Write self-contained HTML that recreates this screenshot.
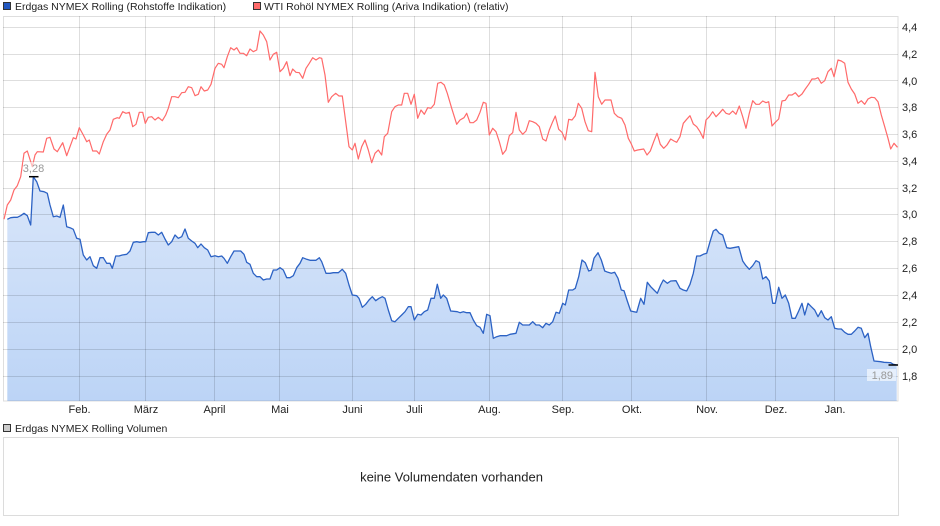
<!DOCTYPE html>
<html><head><meta charset="utf-8"><style>
html,body{margin:0;padding:0;background:#fff;}
svg{display:block;font-family:"Liberation Sans",Arial,sans-serif;}
</style></head><body>
<svg width="940" height="526" viewBox="0 0 940 526" xmlns="http://www.w3.org/2000/svg">
<defs>
<linearGradient id="gf" gradientUnits="userSpaceOnUse" x1="0" y1="176" x2="0" y2="401">
<stop offset="0" stop-color="#d9e6fa"/>
<stop offset="1" stop-color="#bcd4f6"/>
</linearGradient>
</defs>
<!-- legend -->
<rect x="3.5" y="2.5" width="7" height="7" fill="#2358c0" stroke="#333" stroke-width="1"/>
<text x="15" y="10" font-size="10.5" fill="#222">Erdgas NYMEX Rolling (Rohstoffe Indikation)</text>
<rect x="253.5" y="2.5" width="7" height="7" fill="#ff6b6b" stroke="#333" stroke-width="1"/>
<text x="264" y="10" font-size="10.5" fill="#222">WTI Rohöl NYMEX Rolling (Ariva Indikation) (relativ)</text>

<!-- fill -->
<polygon fill="url(#gf)" points="7.3,401 7.3,219.3 10.7,217.7 14,217.3 17.3,217.3 20.7,215.7 24,213.3 27.3,215.7 30.7,225 33.3,176.7 36.7,181.7 40,191 44,191.7 47.3,193.3 50,205 53.3,216.7 56.7,216 60,217.3 63.3,205 66.7,226.7 70,227.7 73.3,229.3 76.7,238.3 80,239.3 83.3,255 86.7,260 90,256.7 93.3,265.7 96.7,268.3 100,257.7 103.3,257.7 106.7,263.3 110,263.3 112.3,268.3 115.7,256 119,256 122.3,255 126.7,254.3 130,251 133.3,242.3 136.7,241.7 140,242.3 143.3,241.7 145.7,241.7 148.3,232.7 151.7,232.3 155,232.3 158.3,235 161.7,232.3 165,239 168.3,245 171.7,241.7 175,235 178.3,238.3 181.7,236.7 185,229 188.3,238.3 191.7,241 195,243.3 197.7,247.7 201,244 204.3,247.7 207.7,250 211,256.7 215,255.7 218.3,256.7 221.7,256 224,258.3 227.3,263.3 230.7,256.7 234,251 240.7,251 244,254.3 246.7,262.3 250,264.3 253.3,273.3 256.7,276.7 260,276.7 263.3,280 266.7,279 270,279 273.3,270 276.7,270 280,267.7 283.3,270 286.7,277.7 290,277.7 293.3,275.7 296.7,267.7 300,263.3 302.7,257.7 306.7,259.3 310,260.3 316,260.3 319.3,257.7 321.7,261.7 326,273.3 330,273.3 333.3,272.7 338.3,272.7 342.3,269.3 345.7,273.3 349,285 352.3,295 356.7,295.7 359,298.3 362.3,307.3 365.7,304.3 369,300 372.3,296.7 375.7,300.7 379,298.3 382.3,296.7 385,298.3 388.3,310 391.7,320.7 395,321.7 398.3,318.3 401.7,315 405,311.7 408.3,306.7 411,306.7 414.3,320 417.7,314.3 421,315 424.3,311.7 427.7,310 431,298.3 434.3,298.3 437.3,284.3 440.7,298.3 443.3,295 446.7,298.3 450.7,311 457.3,311.7 460,312.7 463.3,311.7 466.7,312.7 470,312.7 473.3,320 476.7,325.7 480,327.3 483.3,333.3 486.7,314.3 490,315.7 493.3,338.3 496.7,336.7 500,335.7 506.7,335.7 510,334.3 516,333.3 519.3,322.3 522.7,325 529.3,325 532.7,321.7 536,325 539.3,325 542.7,327.7 546,323.3 549.3,325 552.7,321.7 556,312.3 559.3,313.3 562.7,303.3 565.3,305 568.7,290 572.7,290 575.3,288.3 578.7,276.7 582,260 585.3,262.7 588.7,271 591.3,270 594,258.3 598,252.7 601.3,260 604.7,271 608,272.3 611.3,273.3 614.7,272.3 618,278.3 621.3,290 624,290.7 627.3,301 630.7,311 636.7,312.3 640.7,298.3 644,304.3 647.3,282.3 650.7,286.7 654,290 657.3,293.3 660.7,285 663.3,280 667.3,283.3 670.7,281 676,280.7 680,288.3 683.3,290 686.7,291 690,284.3 693.3,273.3 696.7,256 700,256 703.3,254.3 706.7,253.3 710,241.7 713.3,231 716,229.3 719.3,233.3 722.7,235 726.7,247.7 730,248.3 738.7,246.7 742.7,261 746,265.7 749.3,269.3 752.7,265.7 756,260.7 759.3,262.3 762.7,279 766,276.7 769.3,281 772.7,303.3 775.3,303.3 778.7,287.3 782,298.3 785.3,295 788.7,303.3 792,318.3 795.3,318.3 798.7,311 802,303.3 804.7,315 808,303.3 811.3,306.7 814.7,310 818,316.7 821.3,310.7 824.7,317.7 828,320 831.3,316.7 834.7,328.3 838,329 841.3,329 844.7,332.3 848,334.3 851.3,334.3 854.7,331 858,327.3 861.3,328.3 864.7,337.7 868,333.3 870.7,346.7 874,361 880.7,361.7 884,362.3 890.7,362.7 893.3,364.3 896.7,365 896.7,401"/>

<!-- grid -->
<g stroke="#000" stroke-opacity="0.13" stroke-width="1" fill="none">
<line x1="3" y1="27.5" x2="898" y2="27.5"/>
<line x1="3" y1="54.5" x2="898" y2="54.5"/>
<line x1="3" y1="80.5" x2="898" y2="80.5"/>
<line x1="3" y1="107.5" x2="898" y2="107.5"/>
<line x1="3" y1="134.5" x2="898" y2="134.5"/>
<line x1="3" y1="161.5" x2="898" y2="161.5"/>
<line x1="3" y1="188.5" x2="898" y2="188.5"/>
<line x1="3" y1="214.5" x2="898" y2="214.5"/>
<line x1="3" y1="241.5" x2="898" y2="241.5"/>
<line x1="3" y1="268.5" x2="898" y2="268.5"/>
<line x1="3" y1="295.5" x2="898" y2="295.5"/>
<line x1="3" y1="322.5" x2="898" y2="322.5"/>
<line x1="3" y1="349.5" x2="898" y2="349.5"/>
<line x1="3" y1="376.5" x2="898" y2="376.5"/>
<line x1="79.5" y1="16" x2="79.5" y2="401"/>
<line x1="145.5" y1="16" x2="145.5" y2="401"/>
<line x1="214.5" y1="16" x2="214.5" y2="401"/>
<line x1="279.5" y1="16" x2="279.5" y2="401"/>
<line x1="352.5" y1="16" x2="352.5" y2="401"/>
<line x1="414.5" y1="16" x2="414.5" y2="401"/>
<line x1="489.5" y1="16" x2="489.5" y2="401"/>
<line x1="562.5" y1="16" x2="562.5" y2="401"/>
<line x1="631.5" y1="16" x2="631.5" y2="401"/>
<line x1="706.5" y1="16" x2="706.5" y2="401"/>
<line x1="775.5" y1="16" x2="775.5" y2="401"/>
<line x1="834.5" y1="16" x2="834.5" y2="401"/>
<rect x="3.5" y="16.5" width="894.5" height="384.5"/>
</g>

<!-- red line -->
<polyline fill="none" stroke="#ff6a6a" stroke-width="1.2" stroke-linejoin="round" points="4,219.3 7.3,205 10.7,200 14,190 17.3,185.7 20.7,176.7 24,153.3 27.3,151 30.7,161.7 32.3,166.7 35,155 37.3,151.7 43.3,152 46.7,138.3 50,137.3 54,149 57.3,151.7 62.7,142.7 66.7,155.7 70,146.7 73.3,137.7 76,139 79.3,127.7 83.3,135 86.7,141.7 89.3,140 92.7,151 96.7,151 99.3,154 103.3,141.7 106.7,134.3 110,130 113.3,119.3 117.3,117.7 119.3,118.3 122.7,111.7 126,113.3 129.3,112.3 132.7,126.7 136,124.3 139.3,112.3 142.7,112.3 145.3,123.3 148.3,117.3 151.7,116.7 155,120 158.3,117.3 162.3,120.7 165.7,115 168.3,108.3 171.7,96.7 175,96.7 178.3,97.7 181.7,92.7 185,92.3 188.3,86.7 191.7,87.7 195,95.7 198.3,94.3 201,86.7 204.3,91 207.7,90 211,84.3 215,68.3 218.3,63.3 221.7,64.3 224,67.7 227.3,56.7 230.7,47.7 234,50 236.7,47.7 240,53.3 243.3,53.3 246.7,55.7 250,49 253.3,51.7 256.7,50 260,31 263.3,35 266.7,41.7 270,60 273.3,54.3 276.7,52.3 280,71.7 283.3,68.3 286.7,61.7 290,75.7 292.7,69 296,72.3 299.3,72.7 302.7,78.3 306,68.3 309.3,63.3 312.7,57.7 316,60 319.3,57.7 321.7,58.3 325,75 328.3,102.3 331.7,96.7 335.7,93.3 339,96 342.3,96 345.7,121.7 349,146.7 352.3,150 355,143.3 358.3,159 361.7,146.7 365,140 368.3,150 371.7,162.7 375,153.3 378.3,150 381.7,155 384.3,136.7 387.7,133.3 391.7,111.7 395,106.7 398.3,105 401.7,105 404.3,93.3 407.7,93.3 411,104.3 414.3,94.3 417.7,118.3 421,110 424.3,114.3 427.7,107.7 431,108.3 434.3,104.3 437.7,83.3 441,82.3 444.3,85 447.3,93.3 451.7,108.3 456.7,124.3 460,120 464,117.7 466.7,113.3 470,122.7 473.3,122.7 476.7,120 480,112.3 483.3,102.3 486,103.3 489.3,135 492.7,128.3 496,131.7 499.3,141.7 502.7,154.3 506,150 509.3,135.7 512.7,132.7 516,112.3 519.3,130 522.7,134.3 526,131 529.3,120.7 532.7,121.7 536,123.3 539.3,126.7 542.7,139 546,141 549.3,130 552.7,121.7 555.3,116 558.7,129.3 562,132.3 565.3,140 568.7,119.3 572,120 575.3,115.7 578.3,103.3 581.7,108.3 585,121.7 588.3,130.7 591.7,131.7 595,72.3 598.3,96.7 601.7,104.3 605,100 608,100 611,100 614.3,113.3 617.7,116.7 621.7,118.3 625,125 628.3,138.3 631,143.3 634.3,151 637.7,150 643.7,149 647,155 650.3,151 653.7,141.7 657,133.3 660.3,144.3 663.7,148.3 667,145 670.7,139 674,141 676.7,142.3 680,136.7 683.3,123.3 686.7,119.3 690,115.7 693.3,124 696.7,126.7 700,131.7 703.3,138.3 706,120 709.3,116.7 712.7,111.7 716,116.7 719.3,113.3 722.7,109.3 726,113.3 729.3,114.3 732.7,111 736,114.3 739.3,106 742.7,116.7 746,128.3 749.3,113.3 752.7,100.7 756,104.3 759.3,104.3 762.7,101 766,102.7 768.7,101.7 772,126 775.3,122.3 778.7,119 782,101 785.3,100.3 788.7,95 792,95 795.3,92.7 798.7,96.7 802,94 805.3,89 808.7,84.3 812,79 815,79 818,77.7 821.3,83.3 824.7,80.7 828,71.7 831.3,68.3 834,76.7 838,60 841.3,61 844.7,63.3 848,82.3 851.3,89 854.7,94 858,103.3 861.3,100.7 864.7,104.3 868,99 871.3,97.3 874.7,97.7 878,101.7 881.3,115 884.7,126.7 888,138.3 890.7,149 894,143.3 897.5,147.3"/>

<!-- blue line -->
<polyline fill="none" stroke="#2c62c4" stroke-width="1.3" stroke-linejoin="round" points="7.3,219.3 10.7,217.7 14,217.3 17.3,217.3 20.7,215.7 24,213.3 27.3,215.7 30.7,225 33.3,176.7 36.7,181.7 40,191 44,191.7 47.3,193.3 50,205 53.3,216.7 56.7,216 60,217.3 63.3,205 66.7,226.7 70,227.7 73.3,229.3 76.7,238.3 80,239.3 83.3,255 86.7,260 90,256.7 93.3,265.7 96.7,268.3 100,257.7 103.3,257.7 106.7,263.3 110,263.3 112.3,268.3 115.7,256 119,256 122.3,255 126.7,254.3 130,251 133.3,242.3 136.7,241.7 140,242.3 143.3,241.7 145.7,241.7 148.3,232.7 151.7,232.3 155,232.3 158.3,235 161.7,232.3 165,239 168.3,245 171.7,241.7 175,235 178.3,238.3 181.7,236.7 185,229 188.3,238.3 191.7,241 195,243.3 197.7,247.7 201,244 204.3,247.7 207.7,250 211,256.7 215,255.7 218.3,256.7 221.7,256 224,258.3 227.3,263.3 230.7,256.7 234,251 240.7,251 244,254.3 246.7,262.3 250,264.3 253.3,273.3 256.7,276.7 260,276.7 263.3,280 266.7,279 270,279 273.3,270 276.7,270 280,267.7 283.3,270 286.7,277.7 290,277.7 293.3,275.7 296.7,267.7 300,263.3 302.7,257.7 306.7,259.3 310,260.3 316,260.3 319.3,257.7 321.7,261.7 326,273.3 330,273.3 333.3,272.7 338.3,272.7 342.3,269.3 345.7,273.3 349,285 352.3,295 356.7,295.7 359,298.3 362.3,307.3 365.7,304.3 369,300 372.3,296.7 375.7,300.7 379,298.3 382.3,296.7 385,298.3 388.3,310 391.7,320.7 395,321.7 398.3,318.3 401.7,315 405,311.7 408.3,306.7 411,306.7 414.3,320 417.7,314.3 421,315 424.3,311.7 427.7,310 431,298.3 434.3,298.3 437.3,284.3 440.7,298.3 443.3,295 446.7,298.3 450.7,311 457.3,311.7 460,312.7 463.3,311.7 466.7,312.7 470,312.7 473.3,320 476.7,325.7 480,327.3 483.3,333.3 486.7,314.3 490,315.7 493.3,338.3 496.7,336.7 500,335.7 506.7,335.7 510,334.3 516,333.3 519.3,322.3 522.7,325 529.3,325 532.7,321.7 536,325 539.3,325 542.7,327.7 546,323.3 549.3,325 552.7,321.7 556,312.3 559.3,313.3 562.7,303.3 565.3,305 568.7,290 572.7,290 575.3,288.3 578.7,276.7 582,260 585.3,262.7 588.7,271 591.3,270 594,258.3 598,252.7 601.3,260 604.7,271 608,272.3 611.3,273.3 614.7,272.3 618,278.3 621.3,290 624,290.7 627.3,301 630.7,311 636.7,312.3 640.7,298.3 644,304.3 647.3,282.3 650.7,286.7 654,290 657.3,293.3 660.7,285 663.3,280 667.3,283.3 670.7,281 676,280.7 680,288.3 683.3,290 686.7,291 690,284.3 693.3,273.3 696.7,256 700,256 703.3,254.3 706.7,253.3 710,241.7 713.3,231 716,229.3 719.3,233.3 722.7,235 726.7,247.7 730,248.3 738.7,246.7 742.7,261 746,265.7 749.3,269.3 752.7,265.7 756,260.7 759.3,262.3 762.7,279 766,276.7 769.3,281 772.7,303.3 775.3,303.3 778.7,287.3 782,298.3 785.3,295 788.7,303.3 792,318.3 795.3,318.3 798.7,311 802,303.3 804.7,315 808,303.3 811.3,306.7 814.7,310 818,316.7 821.3,310.7 824.7,317.7 828,320 831.3,316.7 834.7,328.3 838,329 841.3,329 844.7,332.3 848,334.3 851.3,334.3 854.7,331 858,327.3 861.3,328.3 864.7,337.7 868,333.3 870.7,346.7 874,361 880.7,361.7 884,362.3 890.7,362.7 893.3,364.3 896.7,365"/>

<!-- markers -->
<rect x="23" y="162" width="21" height="12" fill="#fff" fill-opacity="0.55"/>
<text x="33.5" y="172" font-size="11" fill="#999" text-anchor="middle">3,28</text>
<line x1="29" y1="176.7" x2="38.5" y2="176.7" stroke="#000" stroke-width="1.5"/>
<rect x="867" y="369" width="29" height="12" fill="#fff" fill-opacity="0.6"/>
<text x="893" y="379" font-size="11" fill="#999" text-anchor="end">1,89</text>
<line x1="888.5" y1="365" x2="898" y2="365" stroke="#000" stroke-width="1.5"/>

<!-- y labels -->
<g font-size="11" fill="#222">
<text x="902" y="31">4,4</text>
<text x="902" y="58">4,2</text>
<text x="902" y="85">4,0</text>
<text x="902" y="111">3,8</text>
<text x="902" y="138">3,6</text>
<text x="902" y="165">3,4</text>
<text x="902" y="192">3,2</text>
<text x="902" y="218">3,0</text>
<text x="902" y="245">2,8</text>
<text x="902" y="272">2,6</text>
<text x="902" y="299">2,4</text>
<text x="902" y="326">2,2</text>
<text x="902" y="353">2,0</text>
<text x="902" y="380">1,8</text>
</g>
<!-- x labels -->
<g font-size="11" fill="#222" text-anchor="middle">
<text x="79.5" y="413">Feb.</text>
<text x="146" y="413">März</text>
<text x="214.5" y="413">April</text>
<text x="280" y="413">Mai</text>
<text x="352.5" y="413">Juni</text>
<text x="414.5" y="413">Juli</text>
<text x="489.5" y="413">Aug.</text>
<text x="563" y="413">Sep.</text>
<text x="632" y="413">Okt.</text>
<text x="707" y="413">Nov.</text>
<text x="776" y="413">Dez.</text>
<text x="835" y="413">Jan.</text>
</g>

<!-- volume -->
<rect x="3.5" y="424.5" width="7" height="7" fill="#ccc" stroke="#333" stroke-width="1"/>
<text x="15" y="432" font-size="10.5" fill="#222">Erdgas NYMEX Rolling Volumen</text>
<rect x="3.5" y="437.5" width="895" height="78" fill="#fff" stroke="#dcdcdc" stroke-width="1"/>
<text x="451.5" y="481.5" font-size="13" fill="#222" text-anchor="middle">keine Volumendaten vorhanden</text>
</svg>
</body></html>
